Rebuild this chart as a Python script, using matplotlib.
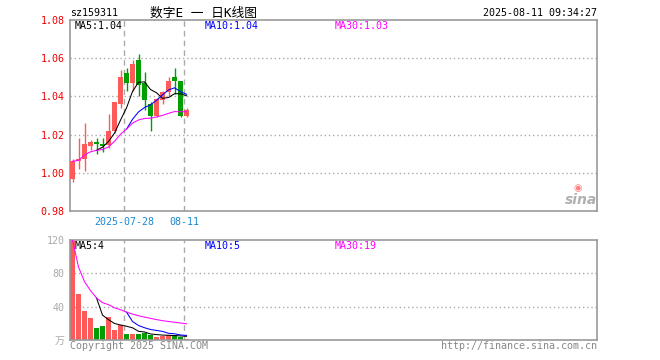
import numpy as np
import matplotlib.pyplot as plt
from matplotlib.transforms import blended_transform_factory

plt.rcParams['font.family'] = ['DejaVu Sans Mono', 'Noto Sans CJK SC']

# daily bars, oldest first
opens = [0.997, 1.006, 1.007, 1.014, 1.016, 1.015, 1.0145, 1.022, 1.036, 1.052,
         1.047, 1.059, 1.047, 1.036, 1.030, 1.038, 1.0425, 1.050, 1.048, 1.030]
closes = [1.006, 1.007, 1.015, 1.016, 1.015, 1.014, 1.022, 1.037, 1.050, 1.047,
          1.057, 1.046, 1.038, 1.030, 1.0385, 1.0425, 1.048, 1.048, 1.030, 1.033]
highs = [1.007, 1.018, 1.026, 1.017, 1.018, 1.018, 1.031, 1.037, 1.054, 1.055,
         1.059, 1.062, 1.053, 1.037, 1.039, 1.043, 1.050, 1.055, 1.048, 1.034]
lows = [0.995, 1.002, 1.001, 1.012, 1.010, 1.011, 1.013, 1.021, 1.034, 1.043,
        1.043, 1.040, 1.033, 1.022, 1.029, 1.036, 1.040, 1.041, 1.029, 1.029]
volumes = [120, 55, 35, 27, 15, 17, 28, 12, 18, 7.6,
           7.5, 7.0, 8.0, 6.0, 4.0, 4.5, 6.0, 6.0, 4.0, 1.5]  # 万

price_ticks = [0.98, 1.00, 1.02, 1.04, 1.06, 1.08]
vol_ticks = [0, 40, 80, 120]
vol_tick_labels = ['万', '40', '80', '120']
date_labels = ['2025-07-28', '08-11']
date_idx = [9, 19]

RED = '#ff5a5a'
GREEN = '#009e00'
GRAY = '#999999'
W, H = 660, 360


def ma(vals, n, expanding=False):
    vals = np.asarray(vals, dtype=float)
    out = np.full(len(vals), np.nan)
    for i in range(len(vals)):
        if i + 1 >= n:
            out[i] = vals[i + 1 - n:i + 1].mean()
        elif expanding:
            out[i] = vals[:i + 1].mean()
    return out


def box(left, top, right, bottom):
    return [left / W, 1 - bottom / H, (right - left) / W, (bottom - top) / H]


def px(x, y):
    return x / W, 1 - y / H


fig = plt.figure(figsize=(6.6, 3.6), dpi=100)
ax = fig.add_axes(box(70, 20, 597, 211))
axv = fig.add_axes(box(70, 240, 597, 340))

n = len(closes)
xs = np.arange(n)
xlim = (-0.42, 87.4)

for a in (ax, axv):
    a.set_xlim(*xlim)
    for s in a.spines.values():
        s.set_color(GRAY)
        s.set_linewidth(1.2)
    a.tick_params(length=0, pad=4)
    a.set_xticks([])
    for i in date_idx:
        a.axvline(i - 0.4, color='#aaaaaa', lw=1, ls=(0, (4, 3)), zorder=0)

# candles
for i in range(n):
    up = closes[i] >= opens[i]
    c = RED if up else GREEN
    ax.vlines(xs[i], lows[i], highs[i], color=c, lw=1, zorder=2)
    lo, hi = sorted([opens[i], closes[i]])
    ax.bar(xs[i], max(hi - lo, 0.0006), bottom=lo, width=0.8, color=c, lw=0, zorder=3)

ax.plot(xs, ma(closes, 5), color='black', lw=0.75, zorder=4)
ax.plot(xs, ma(closes, 10), color='#0000ff', lw=0.75, zorder=4)
ax.plot(xs, ma(closes, 30, expanding=True), color='#ff00ff', lw=0.75, zorder=4)

ax.set_ylim(price_ticks[0], price_ticks[-1])
ax.set_yticks(price_ticks)
ax.set_yticklabels([f'{t:.2f}' for t in price_ticks], color='#ee0000', fontsize=7.2)
for t in price_ticks[1:-1]:
    ax.axhline(t, color='#aaaaaa', lw=1, ls=(0, (1, 2)), zorder=0, clip_on=False)

trans = blended_transform_factory(ax.transData, ax.transAxes)
for lab, i in zip(date_labels, date_idx):
    ax.text(i - 0.4, -0.056, lab, transform=trans, ha='center', va='center',
            color='#1a88d0', fontsize=7.2)

# volume
vcolors = [RED if closes[i] >= opens[i] else GREEN for i in range(n)]
axv.bar(xs, volumes, width=0.8, color=vcolors, lw=0, zorder=2)
axv.plot(xs, ma(volumes, 5), color='black', lw=0.75, zorder=4)
axv.plot(xs, ma(volumes, 10), color='#0000ff', lw=0.75, zorder=4)
axv.plot(xs, ma(volumes, 30, expanding=True), color='#ff00ff', lw=0.75, zorder=4)
axv.set_ylim(0, 120)
axv.set_yticks(vol_ticks)
axv.set_yticklabels(vol_tick_labels, color='#aaaaaa', fontsize=7.2)
for t in vol_ticks[1:-1]:
    axv.axhline(t, color='#aaaaaa', lw=1, ls=(0, (1, 2)), zorder=0, clip_on=False)

# header / MA labels
pm5, pm10, pm30 = ma(closes, 5)[-1], ma(closes, 10)[-1], ma(closes, 30, True)[-1]
vm5, vm10, vm30 = ma(volumes, 5)[-1], ma(volumes, 10)[-1], ma(volumes, 30, True)[-1]

fig.text(*px(70, 13), 'sz159311', fontsize=7.2, va='center')
fig.text(*px(150, 13), '数字E 一 日K线图', fontsize=9.2, va='center')
fig.text(*px(597, 13), '2025-08-11 09:34:27', fontsize=7.2, va='center', ha='right')

fig.text(*px(75, 26), f'MA5:{pm5:.2f}', fontsize=7.2, va='center', color='black')
fig.text(*px(205, 26), f'MA10:{pm10:.2f}', fontsize=7.2, va='center', color='#0000ff')
fig.text(*px(335, 26), f'MA30:{pm30:.2f}', fontsize=7.2, va='center', color='#ff00ff')

fig.text(*px(75, 246), f'MA5:{vm5:.0f}', fontsize=7.2, va='center', color='black')
fig.text(*px(205, 246), f'MA10:{vm10:.0f}', fontsize=7.2, va='center', color='#0000ff')
fig.text(*px(335, 246), f'MA30:{vm30:.0f}', fontsize=7.2, va='center', color='#ff00ff')

fig.text(*px(70, 346), 'Copyright 2025 SINA.COM', fontsize=7.2, va='center', color='#888888')
fig.text(*px(597, 346), 'http://finance.sina.com.cn', fontsize=7.2, va='center',
         ha='right', color='#888888')

# sina logo
fig.text(*px(597, 200), 'sina', fontsize=10, va='center', ha='right', color='#b0b0b0',
         style='italic', weight='bold', family='DejaVu Sans')
fig.text(*px(578, 188), '◉', fontsize=7, va='center', ha='center', color='#ff8080',
         family='DejaVu Sans')

fig.savefig('out.png', dpi=100)
